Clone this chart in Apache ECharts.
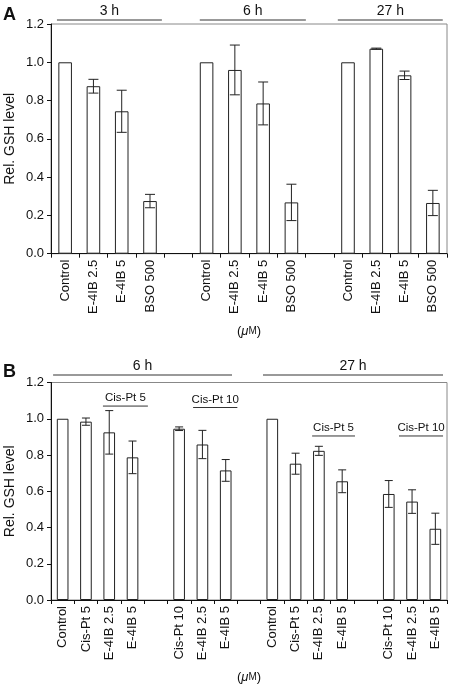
<!DOCTYPE html>
<html><head><meta charset="utf-8">
<script src="https://cdn.jsdelivr.net/npm/echarts@6/dist/echarts.min.js"></script>
<style>html,body{margin:0;padding:0;background:#fff}#c{width:450px;height:686px}</style>
</head><body><div id="c"></div>
<script>
// ---- Panel A data ----
const catsA = ['Control','E-4IB 2.5','E-4IB 5','BSO 500','','Control','E-4IB 2.5','E-4IB 5','BSO 500','','Control','E-4IB 2.5','E-4IB 5','BSO 500'];
const valsA = [1.0,0.875,0.744,0.275,null,1.0,0.96,0.785,0.268,null,1.0,1.071,0.932,0.265];
const errA  = [null,0.036,0.11,0.035,null,null,0.13,0.112,0.095,null,null,0.003,0.022,0.066];
// group spans in category units (fractional positions)
const groupsA = [{label:'3 h',from:-0.29,to:3.42},{label:'6 h',from:4.76,to:8.51},{label:'27 h',from:9.64,to:13.35}];
// ---- Panel B data ----
const catsB = ['Control','Cis-Pt 5','E-4IB 2.5','E-4IB 5','','Cis-Pt 10','E-4IB 2.5','E-4IB 5','','Control','Cis-Pt 5','E-4IB 2.5','E-4IB 5','','Cis-Pt 10','E-4IB 2.5','E-4IB 5'];
const valsB = [1.0,0.984,0.925,0.787,null,0.945,0.858,0.715,null,1.0,0.752,0.823,0.655,null,0.585,0.543,0.393];
const errB  = [null,0.02,0.12,0.09,null,0.01,0.078,0.06,null,null,0.058,0.025,0.063,null,0.074,0.065,0.086];
const groupsB = [{label:'6 h',from:-0.41,to:7.27},{label:'27 h',from:8.6,to:16.33}];
const subB = [{label:'Cis-Pt 5',from:1.73,to:3.66,y:1.07},{label:'Cis-Pt 10',from:5.6,to:7.5,y:1.062},{label:'Cis-Pt 5',from:10.71,to:12.55,y:0.905},{label:'Cis-Pt 10',from:14.44,to:16.33,y:0.905}];

const FONT = 'Liberation Sans, Arial, Helvetica, sans-serif';
const chart = echarts.init(document.getElementById('c'), null, {renderer:'canvas'});

function errData(vals, errs){
  return vals.map((v,i)=> (v==null || errs[i]==null) ? [i,null,null] : [i, v-errs[i], v+errs[i]]);
}
function errRender(cap){
  return function(params, api){
    const v1 = api.value(1), v2 = api.value(2);
    if (v1==null || isNaN(v1) || v2==null || isNaN(v2)) return null;
    const lo = api.coord([api.value(0), v1]);
    const hi = api.coord([api.value(0), v2]);
    const st = {stroke:'#222', lineWidth:1};
    return {type:'group', children:[
      {type:'line', shape:{x1:lo[0],y1:lo[1],x2:hi[0],y2:hi[1]}, style:st},
      {type:'line', shape:{x1:lo[0]-cap/2,y1:lo[1],x2:lo[0]+cap/2,y2:lo[1]}, style:st},
      {type:'line', shape:{x1:hi[0]-cap/2,y1:hi[1],x2:hi[0]+cap/2,y2:hi[1]}, style:st}
    ]};
  };
}
function xAxisCfg(cats, grid, gap){
  return {type:'category', gridIndex:grid, data:cats,
    axisLine:{lineStyle:{color:'#111',width:1}},
    axisTick:{show:true, interval:0, length:4, lineStyle:{color:'#111'}},
    axisLabel:{interval:0, rotate:90, fontFamily:FONT, fontSize:13, color:'#111', margin:6},
    name:'{p|(}{i|μ}{m|M}{p|)}', nameLocation:'middle', nameGap: gap, nameMoveOverlap:false,
    nameTextStyle:{rich:{p:{fontFamily:FONT,fontSize:13,color:'#111'},i:{fontFamily:FONT,fontSize:13,fontStyle:'italic',color:'#111'},m:{fontFamily:FONT,fontSize:10,color:'#111'}}}
  };
}
function yAxisCfg(grid){
  return {type:'value', gridIndex:grid, min:0, max:1.2, interval:0.2,
    axisLine:{show:true, lineStyle:{color:'#111'}},
    axisTick:{show:true, length:4, lineStyle:{color:'#111'}},
    splitLine:{show:false},
    axisLabel:{fontFamily:FONT, fontSize:13, color:'#111', margin:7, formatter:v=>v.toFixed(1)},
    name:'Rel. GSH level', nameLocation:'middle', nameGap:34, nameMoveOverlap:false,
    nameTextStyle:{fontFamily:FONT, fontSize:14, color:'#111'}
  };
}
const barStyle = {color:'#fff', borderColor:'#222', borderWidth:1};
chart.setOption({
  animation:false,
  grid:[
    {left:51, right:3, top:24, height:229.7, containLabel:false, outerBoundsMode:'none', show:true, borderColor:'#888', borderWidth:1, backgroundColor:'transparent'},
    {left:51, right:3, top:382.5, height:217.5, containLabel:false, outerBoundsMode:'none', show:true, borderColor:'#888', borderWidth:1, backgroundColor:'transparent'}
  ],
  xAxis:[xAxisCfg(catsA,0,71), xAxisCfg(catsB,1,71)],
  yAxis:[yAxisCfg(0), yAxisCfg(1)],
  series:[
    {type:'bar', xAxisIndex:0, yAxisIndex:0, data:valsA, barWidth:'48%', itemStyle:barStyle},
    {type:'custom', xAxisIndex:0, yAxisIndex:0, data:errData(valsA,errA), encode:{x:0,y:[1,2]}, renderItem:errRender(10), z:5},
    {type:'bar', xAxisIndex:1, yAxisIndex:1, data:valsB, barWidth:'50%', itemStyle:barStyle},
    {type:'custom', xAxisIndex:1, yAxisIndex:1, data:errData(valsB,errB), encode:{x:0,y:[1,2]}, renderItem:errRender(8), z:5}
  ]
});

function xAt(grid, pos){
  const a = chart.convertToPixel({gridIndex:grid}, [0, 0])[0];
  const b = chart.convertToPixel({gridIndex:grid}, [1, 0])[0];
  return a + (b-a)*pos;
}
const g = [];
g.push({type:'text', left:3, top:6, style:{text:'A', font:'bold 18px '+FONT, fill:'#111'}});
g.push({type:'text', left:3, top:363, style:{text:'B', font:'bold 18px '+FONT, fill:'#111'}});
function header(groups, grid, lineY){
  groups.forEach(gr=>{
    const x1 = xAt(grid, gr.from), x2 = xAt(grid, gr.to);
    g.push({type:'line', shape:{x1:x1,y1:lineY,x2:x2,y2:lineY}, style:{stroke:'#777',lineWidth:1.5}});
    g.push({type:'text', x:(x1+x2)/2, y:lineY-2, style:{text:gr.label, font:'14px '+FONT, fill:'#111', textAlign:'center', textVerticalAlign:'bottom'}});
  });
}
header(groupsA, 0, 20);
header(groupsB, 1, 375);
subB.forEach(s=>{
  const x1 = xAt(1, s.from), x2 = xAt(1, s.to);
  const y = chart.convertToPixel({gridIndex:1}, [0, s.y])[1];
  g.push({type:'line', shape:{x1:x1,y1:y,x2:x2,y2:y}, style:{stroke:'#333',lineWidth:1}});
  g.push({type:'text', x:(x1+x2)/2, y:y-2, style:{text:s.label, font:'11.5px '+FONT, fill:'#111', textAlign:'center', textVerticalAlign:'bottom'}});
});
chart.setOption({graphic:g});
</script></body></html>
